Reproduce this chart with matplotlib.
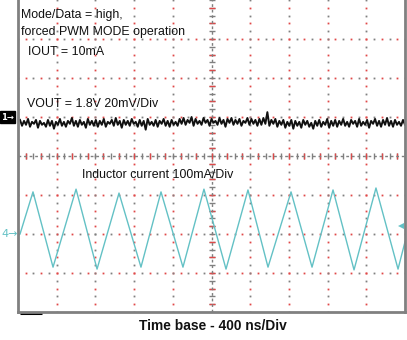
import numpy as np
import matplotlib.pyplot as plt

plt.rcParams['font.family'] = ['Liberation Sans', 'DejaVu Sans']

ns_per_div = 400
mv_per_div = 20
ma_per_div = 100
ch1_level = 1.0    # divisions, ch1 marker
ch4_level = -2.0   # divisions, ch4 marker

# inductor current corners (ns, mA)
il_time = [21, 155, 362, 600, 817, 1044, 1271, 1478, 1705, 1922, 2150,
           2377, 2584, 2822, 3039, 3256, 3473, 3700, 3928, 4000]
il_ma = [0, 108, -85, 115, -90, 105, -85, 108, -85, 115, -90,
         113, -85, 108, -85, 113, -92, 118, -90, -20]

# VOUT ripple around 1.8 V (mV), left to right
vout_mv = [
    -1.5, -4.5, -2.0, -4.0, -1.0, -5.0, -2.5, -3.5, -1.5, -5.5,
    -2.0, -4.0, -3.0, -5.0, -1.5, -4.5, -2.0, -6.0, -2.5, -4.0,
    -1.0, -4.5, -2.5, -5.0, -2.0, -3.5, -0.5, -4.5, -2.0, -5.0,
    -1.5, -4.0, -2.5, -5.5, -1.0, -4.0, -2.0, -4.5, -1.5, -5.0,
    -2.0, -4.0, -1.0, -5.0, -2.5, -3.5, -1.5, -4.5, -0.5, -4.0,
    -2.0, -5.5, -1.5, -4.0, -2.0, -4.5, -1.0, -3.5, -2.5, -5.0,
    -1.5, -4.5, -2.0, -6.5, -1.0, -4.0, -2.5, -4.5, -1.5, -5.0,
    -2.0, -3.5, -1.0, -4.5, -2.0, -5.0, -1.5, -4.0, -2.5, -4.5,
    -1.0, -3.5, -0.5, -4.0, -1.5, -3.0, 0.0, -4.5, -1.0, -3.5,
    -2.0, -4.0, -0.5, -3.0, -1.5, -4.5, -1.0, -3.0, -2.0, -4.0,
    -0.5, -3.5, -1.5, -5.0, -1.0, -3.0, -0.5, -4.0, -1.5, -3.5,
    -1.0, -4.5, -2.0, -3.0, -0.5, -4.0, -1.0, -3.5, -1.5, -4.5,
    -1.0, -4.0, -0.5, -3.5, 2.5, -4.5, -1.5, -3.5, -1.0, -5.0,
    -2.0, -4.0, -1.5, -5.5, -2.5, -4.5, -1.5, -6.0, -2.0, -4.5,
    -2.5, -5.5, -1.5, -4.0, -2.0, -5.0, -3.0, -6.0, -2.0, -4.5,
    -1.5, -5.0, -2.5, -4.0, -1.0, -5.5, -2.0, -4.5, -1.5, -5.0,
    -2.0, -4.0, -1.0, -4.5, -2.5, -5.0, -1.5, -3.5, -2.0, -5.0,
    -1.0, -4.5, -2.5, -4.0, -1.5, -5.5, -2.0, -3.5, -1.0, -4.5,
    -2.0, -5.0, -1.5, -4.0, -0.5, -4.5, -2.0, -5.0, -1.5, -4.0,
    -2.5, -4.5, -1.5, -4.0,
]
vout_t0, vout_t1 = 21, 4000

gray = '#808080'
red = '#e04848'
cyan = '#63c1c5'

fig = plt.figure(figsize=(4.07, 3.40), dpi=100)
ax = fig.add_axes([18 / 407, 28 / 340, 387 / 407, 312 / 340])
ax.set_xlim(0, 10)
ax.set_ylim(-4, 4)

# graticule: dotted lines every division, dots every 0.2 div
steps_y = np.arange(-4, 4.001, 0.2)
steps_x = np.arange(0, 10.001, 0.2)
for gx in range(1, 10):
    if gx == 5:
        continue
    ax.plot([gx] * len(steps_y[::2]), steps_y[::2], 's', ms=1.3, color=gray, mew=0)
    ax.plot([gx] * len(steps_y[1::2]), steps_y[1::2], 's', ms=1.3, color=red, mew=0)
for gy in [-3, -2, -1, 1, 2, 3]:
    ax.plot(steps_x[::2], [gy] * len(steps_x[::2]), 's', ms=1.3, color=gray, mew=0)
    ax.plot(steps_x[1::2], [gy] * len(steps_x[1::2]), 's', ms=1.3, color=red, mew=0)

# centre axes with small ticks
ax.plot([5] * len(steps_y), steps_y, '_', ms=4, color=gray, mew=1)
ax.plot([5] * len(steps_y[1::2]), steps_y[1::2], '_', ms=4, color=red, mew=1)
ax.plot([5, 5], [-4, 4], color=gray, lw=1, ls=(0, (2, 2)))
ax.plot(steps_x, [0] * len(steps_x), '|', ms=4, color=gray, mew=1)
ax.plot(steps_x[1::2], [0] * len(steps_x[1::2]), '|', ms=4, color=red, mew=1)
ax.plot([0, 10], [0, 0], color=gray, lw=1, ls=(0, (2, 2)))

# traces
vt = np.linspace(vout_t0, vout_t1, len(vout_mv)) / ns_per_div
vy = ch1_level + np.array(vout_mv) / mv_per_div
ax.plot(vt, vy, color='#111111', lw=1.4)

it = np.array(il_time) / ns_per_div
iy = ch4_level + np.array(il_ma) / ma_per_div
ax.plot(it, iy, color=cyan, lw=1.0)

# trigger level marker on the right
ax.plot([9.9], [ch4_level + 0.2], '<', ms=4, color=cyan, mew=0)
# trigger position bar under the frame
ax.plot([0.05, 0.62], [-4.02, -4.02], color='black', lw=2.2, clip_on=False,
        solid_capstyle='butt')

# frame
for side in ['left', 'bottom', 'right']:
    ax.spines[side].set_color(gray)
    ax.spines[side].set_linewidth(2)
ax.spines['top'].set_visible(False)
ax.set_xticks([])
ax.set_yticks([])

# channel markers
fig.text(1 / 407, 1 - 117 / 340, '1\u2192', color='white', fontsize=6, fontweight='bold',
         va='center', ha='left', family=['DejaVu Sans'],
         bbox=dict(boxstyle='square,pad=0.15', fc='black', ec='black'))
fig.text(1 / 407, 1 - 234 / 340, '4\u2192', color=cyan, fontsize=8,
         va='center', ha='left', family=['DejaVu Sans'])

# annotations
txt = dict(fontsize=8.9, color='#111111', ha='left', va='center')
fig.text(21 / 407, 1 - 15 / 340, 'Mode/Data = high,', **txt)
fig.text(21 / 407, 1 - 32 / 340, 'forced PWM MODE operation', **txt)
fig.text(28 / 407, 1 - 52 / 340, 'IOUT = 10mA', **txt)
fig.text(27 / 407, 1 - 104 / 340, 'VOUT = 1.8V 20mV/Div', **txt)
fig.text(82 / 407, 1 - 175 / 340, 'Inductor current 100mA/Div', **txt)

fig.text(213 / 407, 1 - 326 / 340, 'Time base - 400 ns/Div', fontsize=9.9,
         fontweight='bold', color='#111111', ha='center', va='center')

fig.savefig('out.png', dpi=100)
